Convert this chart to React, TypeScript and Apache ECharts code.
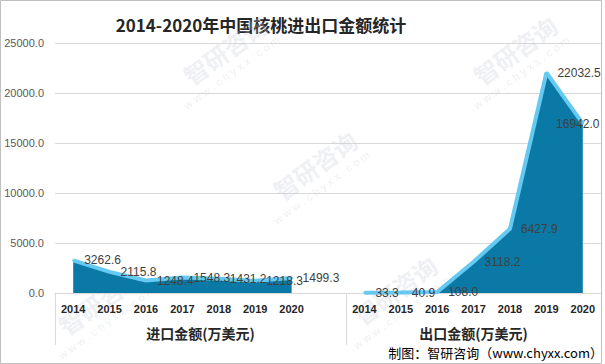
import React, { useEffect, useRef } from "react";
import * as echarts from "echarts";

const years = ["2014", "2015", "2016", "2017", "2018", "2019", "2020"];
const importValues = [3262.6, 2115.8, 1248.4, 1548.3, 1431.2, 1218.3, 1499.3];
const exportValues = [33.3, 40.9, 108.0, 3118.2, 6427.9, 22032.5, 16942.0];
const groupNames = ["进口金额(万美元)", "出口金额(万美元)"];
const titleText = "2014-2020年中国核桃进出口金额统计";
const sourceText = "制图：智研咨询（www.chyxx.com）";
const yMin = 0;
const yMax = 25000;
const yInterval = 5000;

const categories = [
  ...years.map((y) => "进口|" + y),
  "进口|",
  ...years.map((y) => "出口|" + y),
];
const importData = [...importValues, ...categories.slice(importValues.length).map(() => null)];
const exportData = [
  ...categories.slice(0, categories.length - exportValues.length).map(() => null),
  ...exportValues,
];

const FILL = "#0b79a6";
const LINE = "#66c9f1";
const NUM_FONT = "'Liberation Sans', Arial, sans-serif";
const CJK_FONT = "'Noto Sans CJK SC', 'Liberation Sans', sans-serif";

const watermarkSpots = [
  [100, 300],
  [395, 290],
  [315, 165],
  [225, 50],
  [515, 50],
];

export default function App() {
  const ref = useRef<HTMLDivElement>(null);
  useEffect(() => {
    document.body.style.margin = "0";
    const chart = echarts.init(ref.current!, null, { renderer: "svg" });
    const makeSeries = (name: string, data: (number | null)[], lastInside: boolean) => ({
      name,
      type: "line",
      data: data.map((v, i) => {
        if (v === null) return null;
        const isLast = lastInside && i === data.length - 1;
        return isLast
          ? { value: v, label: { position: "inside", offset: [-5, 0] } }
          : v;
      }),
      symbol: "circle",
      symbolSize: 2,
      showSymbol: true,
      itemStyle: { color: LINE },
      lineStyle: { color: LINE, width: 4 },
      areaStyle: { color: FILL, opacity: 1 },
      label: {
        show: true,
        position: "right",
        distance: 10,
        color: "#404040",
        fontSize: 12,
        fontFamily: NUM_FONT,
        formatter: (p: any) => Number(p.value).toFixed(1),
      },
      emphasis: { disabled: true },
      z: 2,
    });
    const option: any = {
      animation: false,
      grid: { left: 55, right: 4, top: 43, bottom: 71, containLabel: false },
      xAxis: {
        type: "category",
        data: categories,
        boundaryGap: true,
        axisLine: { show: true, lineStyle: { color: "#d9d9d9", width: 1 } },
        axisTick: { show: false },
        axisLabel: {
          interval: 0,
          margin: 10,
          color: "#262626",
          fontWeight: "bold",
          fontSize: 11,
          fontFamily: NUM_FONT,
          formatter: (v: string) => v.split("|")[1] || "",
        },
        splitLine: { show: false },
      },
      yAxis: {
        type: "value",
        min: yMin,
        max: yMax,
        interval: yInterval,
        axisLine: { show: false },
        axisTick: { show: false },
        axisLabel: {
          color: "#595959",
          fontSize: 11,
          margin: 11,
          fontFamily: NUM_FONT,
          formatter: (v: number) => v.toFixed(1),
        },
        splitLine: { lineStyle: { color: "#d9d9d9", width: 1 } },
      },
      series: [makeSeries("进口", importData, false), makeSeries("出口", exportData, true)],
    };
    chart.setOption(option);

    const px = (i: number) => chart.convertToPixel({ xAxisIndex: 0 }, i) as number;
    const half = (px(1) - px(0)) / 2;
    const y0 = chart.convertToPixel({ yAxisIndex: 0 }, 0) as number;
    const n = categories.length;
    const splitIdx = importValues.length + 1;
    const bounds = [px(0) - half, px(splitIdx) - half, px(n - 1) + half];
    const groupCenters = [(bounds[0] + bounds[1]) / 2, (bounds[1] + bounds[2]) / 2];

    const graphics: any[] = [];
    bounds.forEach((bx) => {
      graphics.push({
        type: "line",
        shape: { x1: Math.round(bx) + 0.5, y1: y0, x2: Math.round(bx) + 0.5, y2: y0 + 52 },
        style: { stroke: "#d9d9d9", lineWidth: 1 },
        silent: true,
      });
    });
    groupNames.forEach((g, i) => {
      graphics.push({
        type: "text",
        x: groupCenters[i],
        y: y0 + 40,
        style: {
          text: g,
          fill: "#262626",
          font: `bold 14px ${CJK_FONT}`,
          textAlign: "center",
          textVerticalAlign: "middle",
        },
        silent: true,
      });
    });
    graphics.push({
      type: "text",
      x: 261,
      y: 24,
      style: {
        text: titleText,
        fill: "#262626",
        font: `bold 17px ${CJK_FONT}`,
        textAlign: "center",
        textVerticalAlign: "middle",
      },
      silent: true,
    });
    graphics.push({
      type: "text",
      x: 603,
      y: 352,
      style: {
        text: sourceText,
        fill: "#000000",
        font: `13px ${CJK_FONT}`,
        textAlign: "right",
        textVerticalAlign: "middle",
      },
      silent: true,
    });
    watermarkSpots.forEach(([wx, wy]) => {
      graphics.push({
        type: "group",
        x: wx,
        y: wy,
        rotation: (36 * Math.PI) / 180,
        silent: true,
        z: 100,
        children: [
          {
            type: "text",
            x: 0,
            y: 0,
            style: {
              text: "智研咨询",
              fill: "#c5cdd8",
              opacity: 0.3,
              font: `bold 24px ${CJK_FONT}`,
              textAlign: "center",
              textVerticalAlign: "middle",
            },
          },
          {
            type: "text",
            x: -8,
            y: 22,
            style: {
              text: "w w w . c h y x x . c o m",
              fill: "#c5cdd8",
              opacity: 0.3,
              font: `11px ${NUM_FONT}`,
              textAlign: "center",
              textVerticalAlign: "middle",
            },
          },
        ],
      });
    });
    graphics.push({
      type: "rect",
      shape: { x: 0.5, y: 0.5, width: 601, height: 363 },
      style: { fill: "none", stroke: "#bfbfbf", lineWidth: 1 },
      silent: true,
      z: 101,
    });
    chart.setOption({ graphic: graphics });

    return () => chart.dispose();
  }, []);
  return <div ref={ref} style={{ width: 605, height: 364 }} />;
}
